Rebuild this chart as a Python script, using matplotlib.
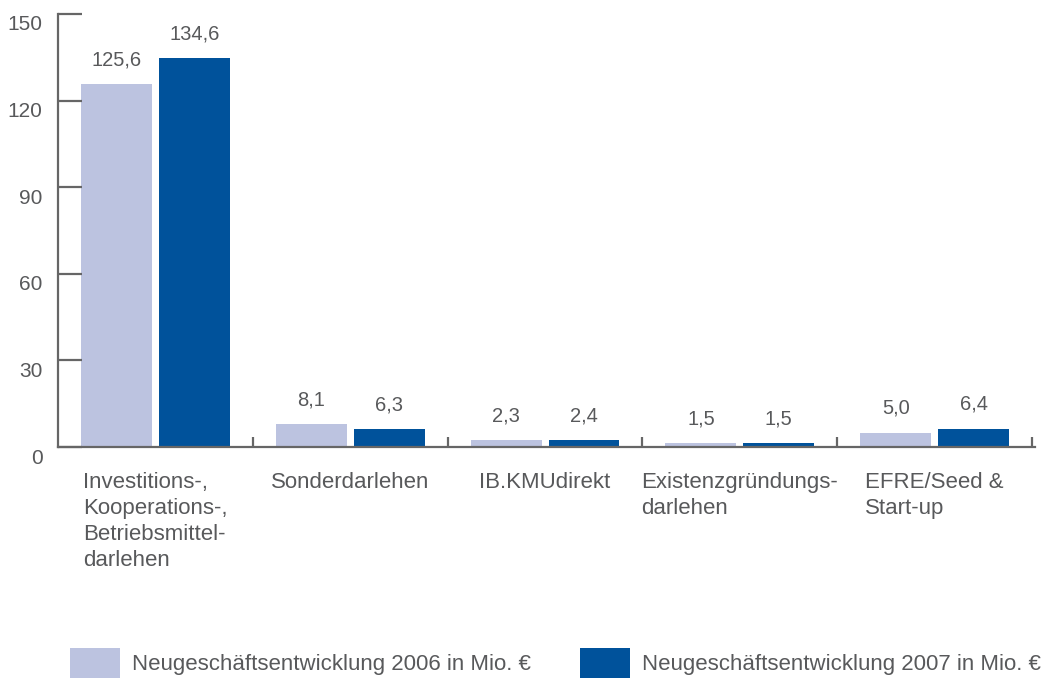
import matplotlib
matplotlib.use("Agg")
import matplotlib.pyplot as plt
import matplotlib.transforms as mtransforms
import numpy as np

categories = ["Investitions-,\nKooperations-,\nBetriebsmittel-\ndarlehen",
              "Sonderdarlehen",
              "IB.KMUdirekt",
              "Existenzgründungs-\ndarlehen",
              "EFRE/Seed &\nStart-up"]
values_2006 = [125.6, 8.1, 2.3, 1.5, 5.0]
values_2007 = [134.6, 6.3, 2.4, 1.5, 6.4]
series_names = ["Neugeschäftsentwicklung 2006 in Mio. €",
                "Neugeschäftsentwicklung 2007 in Mio. €"]
yticks = [0, 30, 60, 90, 120, 150]

light = "#BCC3E0"
dark = "#00529B"
grey = "#666666"
txt = "#58595B"

plt.rcParams['font.family'] = ['Liberation Sans', 'DejaVu Sans']

fig = plt.figure(figsize=(10.43, 6.79), dpi=100)
ax = fig.add_axes([58 / 1043, 1 - 447 / 679, (1035 - 58) / 1043, (447 - 14) / 679])

x = np.arange(len(categories))
w = 0.364
b1 = ax.bar(x - 0.2, values_2006, w, color=light, label=series_names[0])
b2 = ax.bar(x + 0.2, values_2007, w, color=dark, label=series_names[1])

fmt = lambda v: f"{v:.1f}".replace(".", ",")
ax.bar_label(b1, labels=[fmt(v) for v in values_2006], padding=10.5, fontsize=14.5, color=txt)
ax.bar_label(b2, labels=[fmt(v) for v in values_2007], padding=10.5, fontsize=14.5, color=txt)

ax.set_xlim(-0.5, 4.515)
ax.set_ylim(0, 150)

for s in ["top", "right"]:
    ax.spines[s].set_visible(False)
for s in ["left", "bottom"]:
    ax.spines[s].set_color(grey)
    ax.spines[s].set_linewidth(1.6)

ax.set_xticks(x + 0.5)
ax.set_xticklabels([])
ax.tick_params(axis="x", direction="in", length=7.5, width=1.6, color=grey)
ax.set_yticks(yticks)
ax.tick_params(axis="y", direction="in", length=17, width=1.6, color=grey,
               labelsize=15, labelcolor=txt, pad=11)
shift = mtransforms.ScaledTranslation(0, -9 / 100, fig.dpi_scale_trans)
for lab in ax.get_yticklabels():
    lab.set_transform(lab.get_transform() + shift)

# category names: block centred under the group, lines left-aligned
trans = mtransforms.blended_transform_factory(ax.transData, ax.transAxes)
for i, c in enumerate(categories):
    ax.text(i, -0.057, c, transform=trans, ha="center", va="top", multialignment="left",
            fontsize=16, color=txt, linespacing=1.32)

fig.legend(handles=[b1, b2], loc="center left", bbox_to_anchor=(70 / 1043, 1 - 663 / 679),
           ncol=2, frameon=False, borderpad=0, borderaxespad=0,
           handlelength=2.25, handleheight=1.65,
           handletextpad=0.55, columnspacing=2.2,
           prop={"size": 16}, labelcolor=txt)

fig.savefig("out.png", dpi=100)
